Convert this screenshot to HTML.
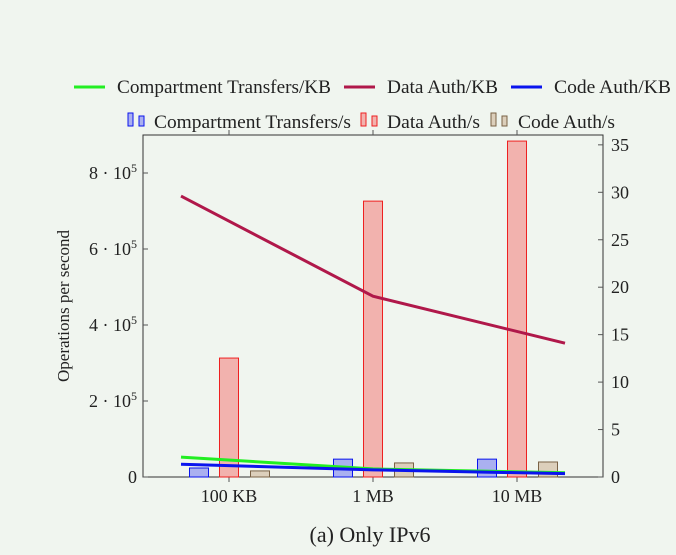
<!DOCTYPE html>
<html><head><meta charset="utf-8"><style>
body{margin:0;background:#f0f5ef;}
svg{display:block;font-family:"Liberation Serif",serif;}
</style></head><body>
<svg width="676" height="555" id="c">
<rect width="676" height="555" fill="#f0f5ef"/>
<g font-size="19" fill="#222">
<line x1="74" y1="87" x2="105" y2="87" stroke="#22ee22" stroke-width="3"/>
<text x="117" y="93" textLength="214" lengthAdjust="spacingAndGlyphs">Compartment Transfers/KB</text>
<line x1="344" y1="87" x2="375" y2="87" stroke="#b0184a" stroke-width="3"/>
<text x="387" y="93" textLength="111" lengthAdjust="spacingAndGlyphs">Data Auth/KB</text>
<line x1="511" y1="87" x2="542" y2="87" stroke="#0a14ee" stroke-width="3"/>
<text x="554" y="93" textLength="117" lengthAdjust="spacingAndGlyphs">Code Auth/KB</text>
</g>
<g font-size="19" fill="#222">
<rect x="128" y="113" width="5" height="13" fill="#aab0f0" stroke="#0a14ee"/><rect x="139" y="116" width="5" height="10" fill="#aab0f0" stroke="#0a14ee"/>
<text x="154" y="128" textLength="197" lengthAdjust="spacingAndGlyphs">Compartment Transfers/s</text>
<rect x="361" y="113" width="5" height="13" fill="#f2b2ae" stroke="#ee2020"/><rect x="372" y="116" width="5" height="10" fill="#f2b2ae" stroke="#ee2020"/>
<text x="387" y="128" textLength="93" lengthAdjust="spacingAndGlyphs">Data Auth/s</text>
<rect x="491" y="113" width="5" height="13" fill="#dccfbb" stroke="#7a6246"/><rect x="502" y="116" width="5" height="10" fill="#dccfbb" stroke="#7a6246"/>
<text x="518" y="128" textLength="97" lengthAdjust="spacingAndGlyphs">Code Auth/s</text>
</g>
<g id="axes"></g>
<g id="marks"></g>
<text transform="translate(69,306) rotate(-90)" text-anchor="middle" font-size="17" fill="#222">Operations per second</text>
<text x="370" y="542" text-anchor="middle" font-size="22" fill="#222">(a) Only IPv6</text>
</svg>
<script>
const categories=["100 KB","1 MB","10 MB"];
const transfersPerSec=[23700,47000,47000];
const dataAuthPerSec=[313000,726000,884000];
const codeAuthPerSec=[16000,37000,39500];
const transfersPerKB=[2.1,0.85,0.45];
const dataAuthPerKB=[29.6,19.05,14.1];
const codeAuthPerKB=[1.35,0.75,0.35];
const leftTicks=[0,2,4,6,8];
const rightTicks=[0,5,10,15,20,25,30,35];
const NS="http://www.w3.org/2000/svg";
const L=143,R=603,T=135,B=477;
const yL=v=>B-v/200000*76;
const yR=v=>B-v*9.49;
const xC=i=>229+144*i;
const xLn=i=>181+192*i;
function mk(tag,attrs,parent){const e=document.createElementNS(NS,tag);for(const k in attrs)e.setAttribute(k,attrs[k]);parent.appendChild(e);return e;}
const ax=document.getElementById('axes'),mg=document.getElementById('marks');
const frame=mk('rect',{x:L,y:T,width:R-L,height:B-T,fill:'none',stroke:'#333','stroke-width':1},ax);


categories.forEach((c,i)=>{
  mk('line',{x1:xC(i),y1:B,x2:xC(i),y2:B+5,stroke:'#555'},ax);
  mk('line',{x1:xC(i),y1:T,x2:xC(i),y2:T-5,stroke:'#555'},ax);
  const t=mk('text',{x:xC(i),y:B+25,'text-anchor':'middle','font-size':18,fill:'#222'},ax);
  t.textContent=c;
  
  
});
leftTicks.forEach(v=>{
  const y=yL(v*100000);
  mk('line',{x1:L,y1:y,x2:L+5,y2:y,stroke:'#555'},ax);
  const t=mk('text',{x:L-6,y:y+6,'text-anchor':'end','font-size':18,fill:'#222'},ax);
  
  
  if(v===0)t.textContent='0';
  else{t.textContent=v+' · 10';const s=mk('tspan',{dy:-7,'font-size':12},t);s.textContent='5';}
});
rightTicks.forEach(v=>{
  const y=yR(v);
  mk('line',{x1:R,y1:y,x2:R-5,y2:y,stroke:'#555'},ax);
  const t=mk('text',{x:R+8,y:y+6,'font-size':18,fill:'#222'},ax);
  t.textContent=v;
  
  
});
const barSeries=[[transfersPerSec,-30,'#aab0f0','#0a14ee','bar-transfers'],[dataAuthPerSec,0,'#f2b2ae','#ee2020','bar-data-auth'],[codeAuthPerSec,31,'#dccfbb','#7a6246','bar-code-auth']];
barSeries.forEach(([vals,off,f,s,name])=>{
  vals.forEach((v,i)=>{
    const y=yL(v);
    const r=mk('rect',{x:xC(i)+off-9.5,y:y,width:19,height:B-y,fill:f,stroke:s,'stroke-width':1},mg);
    
    
  });
});
const lineSeries=[[dataAuthPerKB,'#b0184a','line-data-auth'],[transfersPerKB,'#22ee22','line-transfers'],[codeAuthPerKB,'#0a14ee','line-code-auth']];
lineSeries.forEach(([vals,c,name])=>{
  const p=mk('polyline',{points:vals.map((v,i)=>xLn(i)+','+yR(v)).join(' '),fill:'none',stroke:c,'stroke-width':3},mg);
  
  
});
</script>
</body></html>
